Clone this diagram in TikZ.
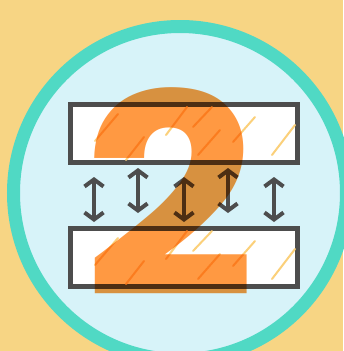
\documentclass[tikz,border=0pt]{standalone}
\usepackage{fontspec}
\usepackage{graphicx}
\usetikzlibrary{arrows.meta}
\newfontfamily\digitfont{Poppins}
\definecolor{sandbg}{HTML}{F7D584}
\definecolor{ringteal}{HTML}{50D9C4}
\definecolor{paleblue}{HTML}{D7F3F9}
\definecolor{plategray}{HTML}{4D4D4D}
\definecolor{hatchyellow}{HTML}{FBD07A}
\definecolor{digitorange}{HTML}{FF9942}

\begin{document}
\begin{tikzpicture}[x=1pt, y=-1pt,
  plate/.style={draw=plategray, line width=5pt, fill=white},
  gap/.style={draw=plategray, line width=4pt,
    {Straight Barb[length=7pt,width=19pt]}-{Straight Barb[length=7pt,width=19pt]}},
  hatch/.style={draw=hatchyellow, line width=2pt, line cap=round},
  digit/.style={text=digitorange, inner sep=0pt, anchor=base,
    font=\digitfont\bfseries\fontsize{280}{280}\selectfont}
]
\useasboundingbox (0,0) rectangle (343,351);
\fill[sandbg] (0,0) rectangle (343,351);

%% Badge circle
\draw[ringteal, line width=13pt, fill=paleblue] (180,193) circle (166.5);

%% Two plates with glass hatching
\foreach \dy/\name in {0/top, 124/bottom} {
  \begin{scope}[shift={(0,\dy)}]
    \draw[plate] (70.5,104.5) rectangle (297.5,162.5);
    \draw[hatch] (95,141) -- (118,114);
    \draw[hatch] (126,160) -- (144,137);
    \draw[hatch] (166,135) -- (187,107);
    \draw[hatch] (193,127) -- (212,107);
    \draw[hatch] (198,155) -- (220,130);
    \draw[hatch] (233,142) -- (255,117);
    \draw[hatch] (272,155) -- (295,125);
  \end{scope}
}

%% Arrows between plates (x, top, bottom)
\foreach \x/\a/\b in {94/177/222, 138/168/213, 184/177/222, 228/168/213, 274/177/222} {
  \coordinate (up\x) at (\x,\a);
  \coordinate (dn\x) at (\x,\b);
  \draw[gap] (up\x) -- (dn\x);
}

%% Big number on top
\begin{scope}[blend mode=multiply]
  \node[digit] (two) at (170,296) {\scalebox{1.08}[1]{2}};
\end{scope}
\end{tikzpicture}
\end{document}
